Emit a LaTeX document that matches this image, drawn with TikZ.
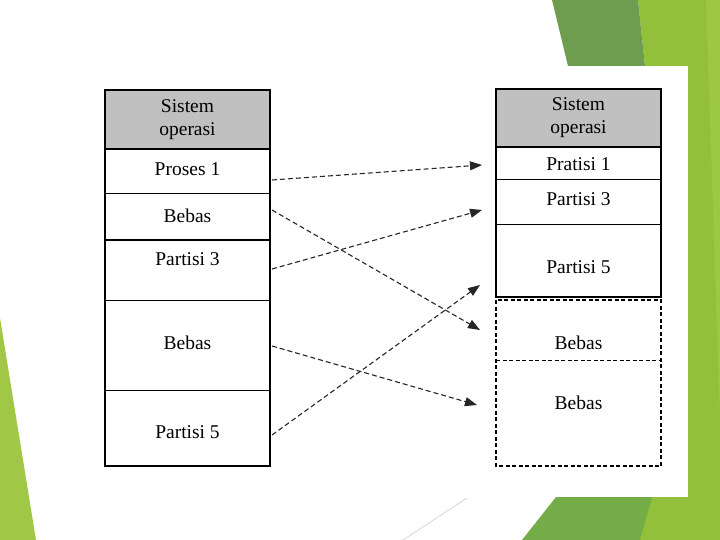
\documentclass[tikz,border=0pt]{standalone}
\usepackage{fontspec}
\setmainfont{Liberation Serif}
\usetikzlibrary{arrows.meta}
\definecolor{gdark}{HTML}{6F9D50}
\definecolor{glime}{HTML}{92C03A}
\definecolor{glight}{HTML}{9CC842}
\definecolor{gbot}{HTML}{74AD48}
\definecolor{gleft}{HTML}{A0C846}
\definecolor{hdr}{HTML}{C0C0C0}
\tikzset{
  cell/.style={rectangle, draw=black, line width=1pt, minimum width=165pt, inner sep=3pt, outer sep=0pt, anchor=north west, font=\fontsize{19.5}{23}\selectfont, text height=13pt, text depth=4pt},
  hcell/.style={rectangle, draw=black, line width=1pt, fill=hdr, minimum width=165pt, inner sep=3pt, outer sep=0pt, anchor=north west, align=center, font=\fontsize{19.5}{23}\selectfont},
  fcell/.style={cell, draw=none},
  thickline/.style={line width=2pt},
  dashbox/.style={line width=1.5pt, dash pattern=on 4pt off 2.5pt},
  dashdiv/.style={line width=1pt, dash pattern=on 4pt off 2.5pt},
  move/.style={draw=black!85, line width=1.1pt, dash pattern=on 5pt off 3pt, -{Triangle[length=12pt,width=9pt]}}
}
\begin{document}
\begin{tikzpicture}[x=1pt,y=-1pt]
\useasboundingbox (0,0) rectangle (720,540);
% background decoration
\fill[white] (0,0) rectangle (720,540);
\fill[glime] (638,0) -- (720,0) -- (720,540) -- (630,540) -- (645,66) -- cycle;
\fill[glight] (706,0) -- (720,0) -- (720,420) -- cycle;
\fill[gdark] (552,0) -- (638,0) -- (645,66) -- (568,66) -- cycle;
\fill[gbot] (556,497) -- (652,497) -- (640,540) -- (522,540) -- cycle;
\fill[gleft] (0,318) -- (36,540) -- (0,540) -- cycle;
\draw[gray!40, line width=0.6pt] (467,498) -- (403,540);
\fill[white] (300,66) rectangle (688,497);
% left column
\node[hcell, minimum height=59pt] (lh) at (105,90) {Sistem\\operasi};
\node[cell, minimum height=45pt] (l1) at (105,149) {Proses 1};
\node[cell, minimum height=46pt, text height=15pt] (l2) at (105,194) {Bebas};
\node[cell, minimum height=60pt, text depth=22pt] (l3) at (105,240) {Partisi 3};
\node[cell, minimum height=90pt] (l4) at (105,300) {Bebas};
\node[cell, minimum height=76pt, text height=25pt] (l5) at (105,390) {Partisi 5};
\draw[thickline] (lh.north west) rectangle (l5.south east);
\draw[thickline] (lh.south west) -- (lh.south east);
\draw[thickline] (l3.north west) -- (l3.north east);
% right column
\node[hcell, minimum height=58pt] (rh) at (496,89) {Sistem\\operasi};
\node[cell, minimum height=33pt, text height=19pt] (r1) at (496,147) {Pratisi 1};
\node[cell, minimum height=45pt, text depth=6pt] (r2) at (496,180) {Partisi 3};
\node[cell, minimum height=72pt, text height=29pt] (r3) at (496,225) {Partisi 5};
\draw[thickline] (rh.north west) rectangle (r3.south east);
\draw[thickline] (rh.south west) -- (rh.south east);
\node[fcell, minimum height=60pt, text height=43pt] (rb1) at (496,300) {Bebas};
\node[fcell, minimum height=106pt, text depth=20pt] (rb2) at (496,360) {Bebas};
\draw[dashbox] (rb1.north west) rectangle (rb2.south east);
\draw[dashdiv] (rb2.north west) -- (rb2.north east);
% connectors
\draw[move] ([xshift=2pt,yshift=-8.5pt]l1.east) -- ([xshift=-14pt,yshift=-1.5pt]r1.west);
\draw[move] ([xshift=2pt,yshift=7pt]l2.east) -- ([xshift=-16pt]rb1.west);
\draw[move] ([xshift=2pt,yshift=1pt]l3.east) -- ([xshift=-14pt,yshift=-7.5pt]r2.west);
\draw[move] ([xshift=2pt,yshift=-1pt]l4.east) -- ([xshift=-19pt,yshift=8pt]rb2.west);
\draw[move] ([xshift=2pt,yshift=-7pt]l5.east) -- ([xshift=-16pt,yshift=-24pt]r3.west);
\end{tikzpicture}
\end{document}
